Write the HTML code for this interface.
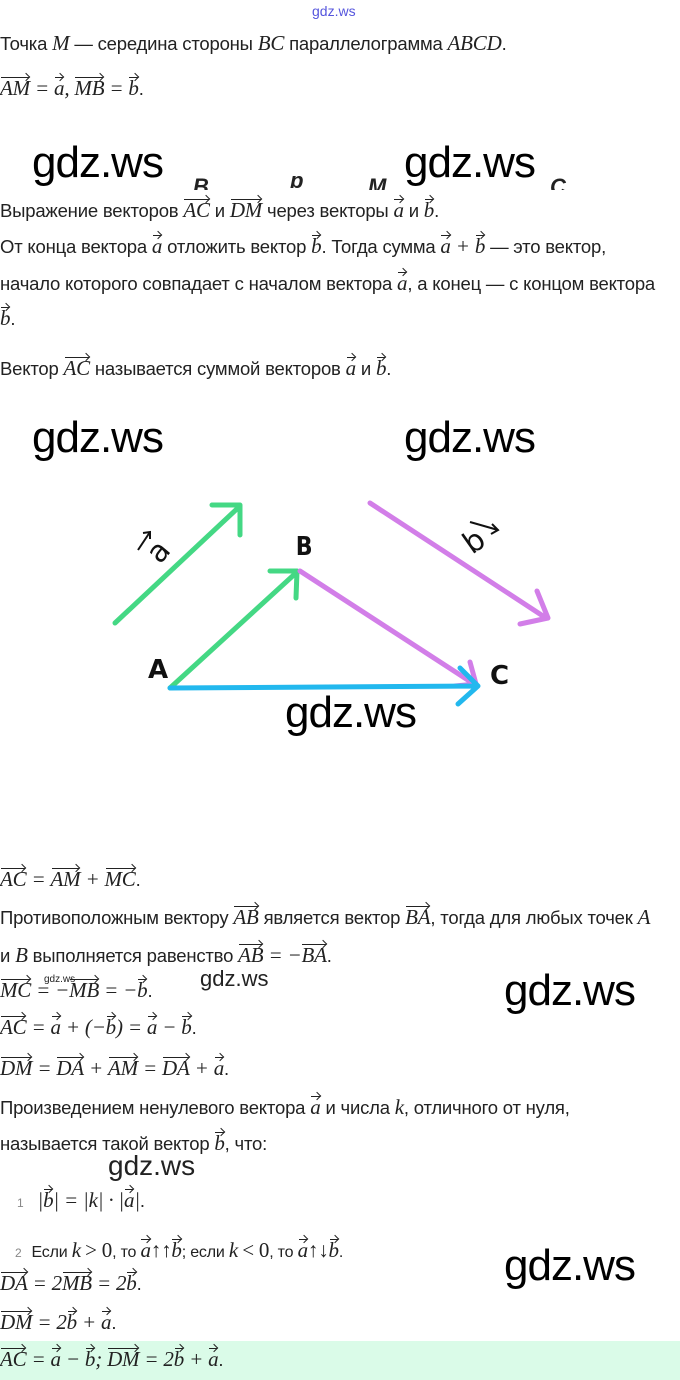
<!DOCTYPE html>
<html><head><meta charset="utf-8"><style>
body{margin:0;width:680px;height:1380px;background:#fff;position:relative;overflow:hidden;font-family:"Liberation Sans",sans-serif;color:#222}
.l{position:absolute;left:0;font-size:18.5px;white-space:nowrap;line-height:22px;letter-spacing:-0.2px}
.m{font-family:"Liberation Serif",serif;font-style:italic;font-size:21px}
.n{font-family:"Liberation Serif",serif;font-size:21px}
.v{display:inline-block;position:relative}
.v::before{content:"";position:absolute;left:1px;right:1px;top:0px;border-top:1px solid #222}
.v::after{content:"";position:absolute;right:1px;top:-3px;width:5px;height:5px;border-top:1px solid #222;border-right:1px solid #222;transform:rotate(45deg)}
.w{position:absolute;font-family:"Liberation Sans",sans-serif;font-size:44px;color:#000;letter-spacing:-1px;line-height:46px}
</style></head><body>
<div style="position:absolute;left:312px;top:3px;font-size:14px;color:#5555dd">gdz.ws</div>
<div class="l" style="top:32px">Точка <span class="m">M</span> — середина стороны <span class="m">BC</span> параллелограмма <span class="m">ABCD</span>.</div>
<div class="l" style="top:77px"><span class="m"><span class="v">AM</span> = <span class="v">a</span>, <span class="v">MB</span> = <span class="v">b</span></span>.</div>
<div class="w" style="left:32px;top:140px">gdz.ws</div>
<div class="w" style="left:404px;top:140px">gdz.ws</div>
<div style="position:absolute;left:0;top:176px;width:680px;height:14px;overflow:hidden;font-weight:bold;font-style:italic;font-size:22px">
<span style="position:absolute;left:193px;top:-2px">B</span><span style="position:absolute;left:290px;top:-8px">b</span><span style="position:absolute;left:368px;top:-2px">M</span><span style="position:absolute;left:550px;top:-2px">C</span></div>
<div class="l" style="top:199px">Выражение векторов <span class="m"><span class="v">AC</span></span> и <span class="m"><span class="v">DM</span></span> через векторы <span class="m"><span class="v">a</span></span> и <span class="m"><span class="v">b</span></span>.</div>
<div class="l" style="top:235px">От конца вектора <span class="m"><span class="v">a</span></span> отложить вектор <span class="m"><span class="v">b</span></span>. Тогда сумма <span class="m"><span class="v">a</span> + <span class="v">b</span></span> — это вектор,</div>
<div class="l" style="top:272px">начало которого совпадает с началом вектора <span class="m"><span class="v">a</span></span>, а конец — с концом вектора</div>
<div class="l" style="top:307px"><span class="m"><span class="v">b</span></span>.</div>
<div class="l" style="top:357px">Вектор <span class="m"><span class="v">AC</span></span> называется суммой векторов <span class="m"><span class="v">a</span></span> и <span class="m"><span class="v">b</span></span>.</div>
<div class="w" style="left:32px;top:415px">gdz.ws</div>
<div class="w" style="left:404px;top:415px">gdz.ws</div>
<svg style="position:absolute;left:0;top:0" width="680" height="1380">
<g fill="none" stroke-width="5" stroke-linecap="round" stroke-linejoin="round">
<path d="M115 623 L240 506 M212 505 L240 505 L240 535" stroke="#44d884"/>
<path d="M170 688 L297 572 M270 571 L297 571 L296 598" stroke="#44d884"/>
<path d="M370 503 L546 618 M537 591 L548 618 L520 624" stroke="#d27ee8"/>
<path d="M300 571 L474 684 M470 662 L476 684 L455 686" stroke="#d27ee8"/>
<path d="M170 688 L478 686 M460 668 L478 686 L458 704" stroke="#22b8ee"/>
</g>
<g font-family="DejaVu Sans,sans-serif" font-weight="bold" font-size="26" fill="#111">
<text x="296" y="555" transform="scale(0.85,1) translate(52,0)">B</text>
<text x="148" y="678">A</text>
<text x="490" y="684">C</text>
<text transform="translate(160,565) rotate(-50)" font-size="30" font-weight="normal">a</text>
<text transform="translate(472,555) rotate(-35)" font-size="30" font-weight="normal">b</text>
</g>
<path d="M138 550 L150 532 M143 533 L150 532 L150 539" stroke="#111" stroke-width="2" fill="none"/>
<path d="M470 522 L498 530 M492 524 L498 530 L491 534" stroke="#111" stroke-width="2" fill="none"/>
</svg>
<div class="w" style="left:285px;top:690px">gdz.ws</div>
<div class="l" style="top:868px"><span class="m"><span class="v">AC</span> = <span class="v">AM</span> + <span class="v">MC</span></span>.</div>
<div class="l" style="top:906px">Противоположным вектору <span class="m"><span class="v">AB</span></span> является вектор <span class="m"><span class="v">BA</span></span>, тогда для любых точек <span class="m">A</span></div>
<div class="l" style="top:944px">и <span class="m">B</span> выполняется равенство <span class="m"><span class="v">AB</span> = −<span class="v">BA</span></span>.</div>
<div class="l" style="top:979px"><span class="m"><span class="v">MC</span> = −<span class="v">MB</span> = −<span class="v">b</span></span>.</div>
<div style="position:absolute;left:44px;top:974px;font-size:10px">gdz.ws</div>
<div style="position:absolute;left:200px;top:966px;font-size:22px;font-family:'Liberation Sans',sans-serif">gdz.ws</div>
<div class="w" style="left:504px;top:968px">gdz.ws</div>
<div class="l" style="top:1016px"><span class="m"><span class="v">AC</span> = <span class="v">a</span> + (−<span class="v">b</span>) = <span class="v">a</span> − <span class="v">b</span></span>.</div>
<div class="l" style="top:1057px"><span class="m"><span class="v">DM</span> = <span class="v">DA</span> + <span class="v">AM</span> = <span class="v">DA</span> + <span class="v">a</span></span>.</div>
<div class="l" style="top:1096px">Произведением ненулевого вектора <span class="m"><span class="v">a</span></span> и числа <span class="m">k</span>, отличного от нуля,</div>
<div class="l" style="top:1132px">называется такой вектор <span class="m"><span class="v">b</span></span>, что:</div>
<div style="position:absolute;left:108px;top:1150px;font-size:28px;font-family:'Liberation Sans',sans-serif">gdz.ws</div>
<div class="l" style="top:1189px"><span style="font-size:12px;color:#888;margin-left:17px;margin-right:14px">1</span><span class="m">|<span class="v">b</span>| = |k| · |<span class="v">a</span>|</span>.</div>
<div class="l" style="top:1239px;font-size:16px"><span style="font-size:12px;color:#888;margin-left:15px;margin-right:10px">2</span>Если <span class="m">k</span> <span class="n">&gt; 0</span>, то <span class="m"><span class="v">a</span>↑↑<span class="v">b</span></span>; если <span class="m">k</span> <span class="n">&lt; 0</span>, то <span class="m"><span class="v">a</span>↑↓<span class="v">b</span></span>.</div>
<div class="w" style="left:504px;top:1243px">gdz.ws</div>
<div class="l" style="top:1272px"><span class="m"><span class="v">DA</span> = 2<span class="v">MB</span> = 2<span class="v">b</span></span>.</div>
<div class="l" style="top:1311px"><span class="m"><span class="v">DM</span> = 2<span class="v">b</span> + <span class="v">a</span></span>.</div>
<div style="position:absolute;left:0;top:1341px;width:680px;height:39px;background:#dafbe8"></div>
<div class="l" style="top:1348px"><span class="m"><span class="v">AC</span> = <span class="v">a</span> − <span class="v">b</span>; <span class="v">DM</span> = 2<span class="v">b</span> + <span class="v">a</span></span>.</div>
</body></html>
